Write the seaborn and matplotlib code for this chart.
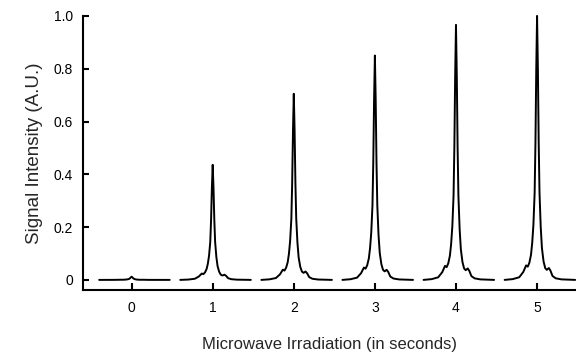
import numpy as np
import pandas as pd
import matplotlib
matplotlib.use("Agg")
import matplotlib.pyplot as plt
import seaborn as sns

# ===== DATA =====
# irradiation time of each spectrum (s) and its peak height
times = [0, 1, 2, 3, 4, 5]
peak_heights = [0.012, 0.436, 0.705, 0.85, 0.966, 1.0]

# line shape: offset from the peak centre (s) and relative height
shape_offset = [-0.40, -0.30, -0.22, -0.17, -0.135, -0.115, -0.095, -0.075, -0.06, -0.045,
                -0.03, -0.02, -0.01, 0.0, 0.01, 0.02, 0.03, 0.045, 0.06, 0.08,
                0.10, 0.12, 0.145, 0.165, 0.19, 0.23, 0.30, 0.47]
shape_rel = [0.0, 0.003, 0.010, 0.030, 0.055, 0.050, 0.065, 0.095, 0.14, 0.21,
             0.33, 0.52, 0.80, 1.0, 0.80, 0.52, 0.33, 0.20, 0.12, 0.07,
             0.045, 0.038, 0.045, 0.035, 0.015, 0.006, 0.002, 0.0]

rows = []
for t, h in zip(times, peak_heights):
    for dx, r in zip(shape_offset, shape_rel):
        rows.append({"seg": t, "x": t + dx, "y": h * r})
df = pd.DataFrame(rows)

# ===== PLOT =====
sns.set_style("ticks")
plt.rcParams["font.family"] = ["Liberation Sans", "DejaVu Sans"]

fig = plt.figure(figsize=(5.76, 3.54), dpi=100)
ax = fig.add_axes([0.144, 0.181, 0.856, 0.774])

sns.lineplot(data=df, x="x", y="y", units="seg", estimator=None, sort=False,
             color="black", linewidth=1.4, ax=ax, clip_on=False)

ax.set_xlim(-0.6, 5.48)
ax.set_ylim(-0.038, 1.0)
ax.set_xticks(times)
ax.set_xticklabels([str(t) for t in times])
ax.set_yticks([0, 0.2, 0.4, 0.6, 0.8, 1.0])
ax.set_yticklabels(["0", "0.2", "0.4", "0.6", "0.8", "1.0"])
ax.tick_params(direction="in", width=1.5, labelsize=10, colors="black")
ax.tick_params(axis="x", length=5, pad=8)
ax.tick_params(axis="y", length=4, pad=7)

for s in ["top", "right"]:
    ax.spines[s].set_visible(False)
for s in ["left", "bottom"]:
    ax.spines[s].set_linewidth(1.5)
    ax.spines[s].set_color("black")

ax.set_xlabel("Microwave Irradiation (in seconds)", fontsize=12, labelpad=16)
ax.set_ylabel("Signal Intensity (A.U.)", fontsize=13.5, labelpad=8)

fig.savefig("out.png", dpi=100)
